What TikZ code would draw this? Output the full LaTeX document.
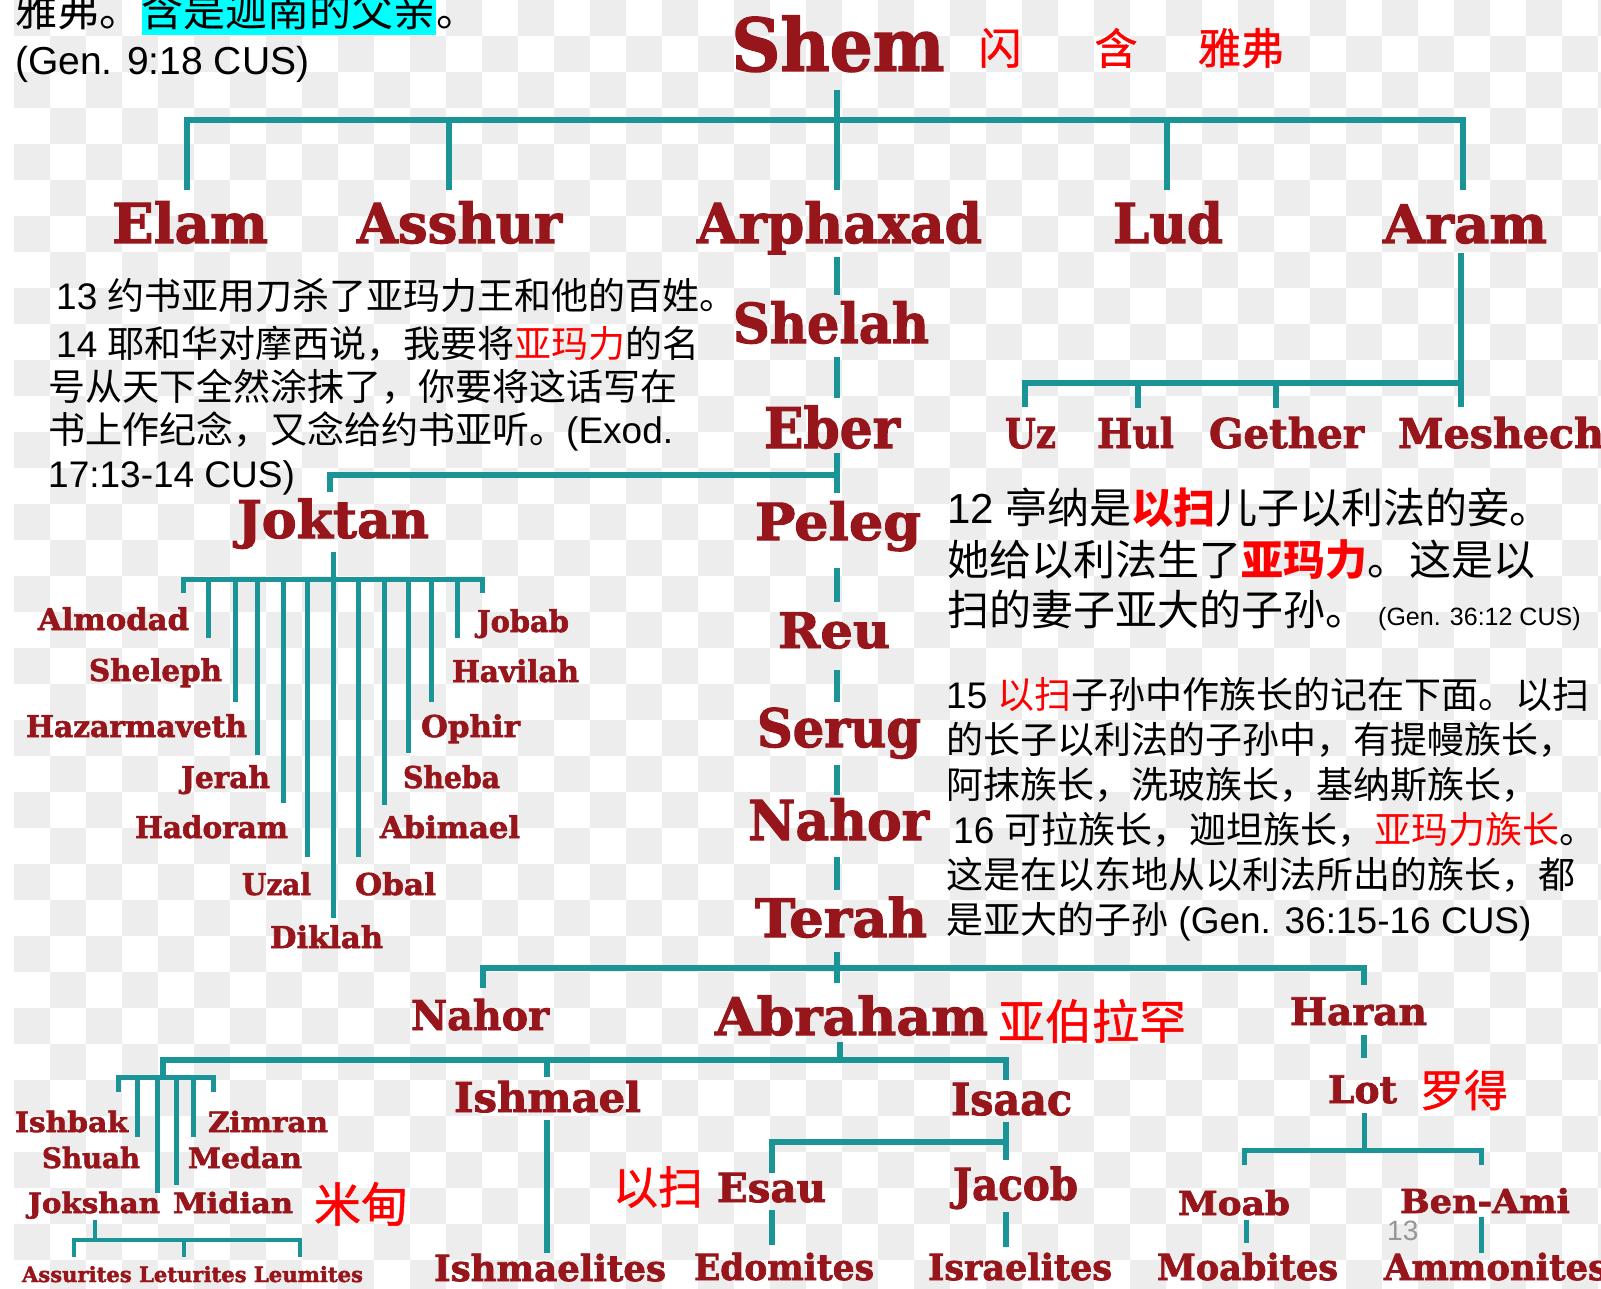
\documentclass[tikz,border=0pt]{standalone}
\usepackage{fontspec}
\usepackage{graphicx}
\setmainfont{Liberation Sans}
\newfontfamily\cjk{Noto Sans CJK SC}
\newfontfamily\cjkm{Noto Sans CJK SC}[FakeBold=1]
\newfontfamily\nmfont{DejaVu Serif}[BoldFeatures={FakeBold=2}]
\definecolor{namered}{RGB}{150,22,28}
\definecolor{tealln}{RGB}{26,148,150}
\definecolor{chk}{RGB}{237,237,237}
\definecolor{hlcyan}{RGB}{0,255,255}
\definecolor{pgnum}{RGB}{150,150,150}
\newlength\nmlen
\newcommand\fitw[2]{\settowidth\nmlen{#2}\scalebox{\fpeval{#1/\nmlen}}[1]{#2}}
\newcommand\fs[1]{\fontsize{#1}{#1}\selectfont}
\tikzset{
  nm/.style={font=\nmfont\bfseries\fs{#1}, text=namered, anchor=base, inner sep=0pt},
  ln/.style={draw=tealln, line width=6pt},
  lns/.style={draw=tealln, line width=5pt},
  lnt/.style={draw=tealln, line width=4pt},
  txt/.style={font=\fs{#1}, anchor=base west, inner sep=0pt, text=black},
  rlab/.style={font=\cjkm\fs{#1}, text=red, inner sep=0pt, anchor=center},
}
\begin{document}
\begin{tikzpicture}[x=1pt,y=-1pt]
\useasboundingbox (0,0) rectangle (1601,1289);
\fill[white] (0,0) rectangle (1601,1289);
% checkerboard background
\begin{scope}
\clip (14,0) rectangle (1601,1289);
\foreach \i in {0,...,44}{\foreach \j in {0,...,35}{%
  \pgfmathtruncatemacro\k{mod(\i+\j,2)}%
  \ifnum\k=0 \fill[chk] ({14+\i*36},{\j*36}) rectangle +(36,36);\fi}}
\end{scope}

% ---------- top quotation ----------
\node[txt=42, font=\cjk\fs{42}] (t1a) at (15,27) {雅弗。};
\node[txt=42, font=\cjk\fs{42}, fill=hlcyan, inner ysep=5pt] (t1b) at (t1a.base east) {含是迦南的父亲};
\node[txt=42, font=\cjk\fs{42}] (t1c) at (t1b.base east) {。};
\node[txt=39] (t2) at (15,75) {(Gen. 9:18 CUS)};

% ---------- names ----------
\node[nm=73] (shem) at (838,71) {\fitw{213}{Shem}};
\node[rlab=43] (zshem) at (1000,48) {闪};
\node[rlab=43] (zham) at (1116,48) {含};
\node[rlab=43] (zjap) at (1241,48) {雅弗};

\node[nm=55] (elam) at (190,243) {\fitw{156}{Elam}};
\node[nm=55] (asshur) at (459.5,243) {\fitw{205}{Asshur}};
\node[nm=55] (arphaxad) at (839.5,243) {\fitw{285}{Arphaxad}};
\node[nm=55] (lud) at (1168,243) {\fitw{110}{Lud}};
\node[nm=53] (aram) at (1465,243) {\fitw{164}{Aram}};

\node[nm=55] (shelah) at (831,343) {\fitw{196}{Shelah}};
\node[nm=56] (eber) at (832,448) {\fitw{136}{Eber}};
\node[nm=51] (peleg) at (838,540) {\fitw{166}{Peleg}};
\node[nm=49] (reu) at (834,648) {\fitw{112}{Reu}};
\node[nm=53] (serug) at (839,747) {\fitw{164}{Serug}};
\node[nm=55] (nahor) at (838.5,840) {\fitw{181}{Nahor}};
\node[nm=53] (terah) at (841,937) {\fitw{172}{Terah}};

\node[nm=41] (uz) at (1030.5,448) {\fitw{51}{Uz}};
\node[nm=41] (hul) at (1135.5,448) {\fitw{77}{Hul}};
\node[nm=41] (gether) at (1286.5,448) {\fitw{155}{Gether}};
\node[nm=41] (meshech) at (1501,448) {\fitw{206}{Meshech}};

\node[nm=52] (joktan) at (333,538) {\fitw{192}{Joktan}};
\node[nm=30] (almodad) at (113.5,630) {\fitw{151}{Almodad}};
\node[nm=30] (sheleph) at (155.5,681) {\fitw{133}{Sheleph}};
\node[nm=30] (hazarmaveth) at (136.5,737) {\fitw{221}{Hazarmaveth}};
\node[nm=30] (jerah) at (225.5,788) {\fitw{89}{Jerah}};
\node[nm=30] (hadoram) at (211.5,838) {\fitw{153}{Hadoram}};
\node[nm=30] (uzal) at (276.5,895) {\fitw{69}{Uzal}};
\node[nm=30] (diklah) at (326.5,948) {\fitw{113}{Diklah}};
\node[nm=30] (obal) at (395.5,895) {\fitw{81}{Obal}};
\node[nm=30] (abimael) at (450,838) {\fitw{140}{Abimael}};
\node[nm=30] (sheba) at (451.5,788) {\fitw{97}{Sheba}};
\node[nm=30] (ophir) at (470.5,737) {\fitw{99}{Ophir}};
\node[nm=30] (havilah) at (515.5,682) {\fitw{127}{Havilah}};
\node[nm=30] (jobab) at (523,632) {\fitw{92}{Jobab}};

\node[nm=41] (nahorb) at (480,1030) {\fitw{138}{Nahor}};
\node[nm=52] (abraham) at (851.5,1035) {\fitw{273}{Abraham}};
\node[rlab=47] (zabr) at (1092,1021) {亚伯拉罕};
\node[nm=38] (haran) at (1358.5,1025) {\fitw{137}{Haran}};

\node[nm=41] (ishmael) at (547.5,1112) {\fitw{187}{Ishmael}};
\node[nm=44] (isaac) at (1011.5,1115) {\fitw{121}{Isaac}};
\node[nm=38] (lot) at (1362.5,1103) {\fitw{69}{Lot}};
\node[rlab=44] (zlot) at (1464,1090) {罗得};

\node[nm=40] (esau) at (771.5,1202) {\fitw{109}{Esau}};
\node[rlab=45] (zesau) at (658,1187) {以扫};
\node[nm=44] (jacob) at (1015.5,1200) {\fitw{125}{Jacob}};
\node[nm=33] (moab) at (1234,1215) {\fitw{112}{Moab}};
\node[nm=33] (benami) at (1485,1213) {\fitw{170}{Ben-Ami}};

\node[nm=36] (ishmaelites) at (550,1281) {\fitw{232}{Ishmaelites}};
\node[nm=36] (edomites) at (784,1280) {\fitw{180}{Edomites}};
\node[nm=36] (israelites) at (1020,1280) {\fitw{184}{Israelites}};
\node[nm=36] (moabites) at (1247.5,1280) {\fitw{181}{Moabites}};
\node[nm=36] (ammonites) at (1496,1280) {\fitw{224}{Ammonites}};

\node[nm=28] (ishbak) at (71.5,1132) {\fitw{113}{Ishbak}};
\node[nm=28] (shuah) at (91,1168) {\fitw{98}{Shuah}};
\node[nm=28] (jokshan) at (94,1213) {\fitw{132}{Jokshan}};
\node[nm=28] (midian) at (233,1213) {\fitw{120}{Midian}};
\node[nm=28] (zimran) at (268,1132) {\fitw{120}{Zimran}};
\node[nm=28] (medan) at (245,1168) {\fitw{114}{Medan}};
\node[rlab=47] (zmid) at (361,1204) {米甸};
\node[nm=21] (assur) at (192.5,1282) {\fitw{341}{Assurites Leturites Leumites}};

\node[txt=28, text=pgnum] (pg) at (1387,1240) {13};

% ---------- text blocks ----------
\node[txt=37] (a1) at (56,310) {13 {\cjk 约书亚用刀杀了亚玛力王和他的百姓。}};
\node[txt=37] (a2) at (56,357) {14 {\cjk 耶和华对摩西说，我要将{\color{red}亚玛力}的名}};
\node[txt=37] (a3) at (48,400) {{\cjk 号从天下全然涂抹了，你要将这话写在}};
\node[txt=37] (a4) at (48,443) {{\cjk 书上作纪念，又念给约书亚听。}(Exod.};
\node[txt=37] (a5) at (48,487) {17:13-14 CUS)};

\node[txt=42] (b1) at (947,523) {12 {\cjk 亭纳是{\color{red}\bfseries 以扫}儿子以利法的妾。}};
\node[txt=42] (b2) at (947,575) {{\cjk 她给以利法生了{\color{red}\bfseries 亚玛力}。这是以}};
\node[txt=42] (b3) at (947,625) {{\cjk 扫的妻子亚大的子孙。}};
\node[txt=25] (b3r) at (1378,625) {(Gen. 36:12 CUS)};

\node[txt=37] (c1) at (946,708) {15 {\cjk {\color{red}以扫}子孙中作族长的记在下面。以扫}};
\node[txt=37] (c2) at (946,753) {{\cjk 的长子以利法的子孙中，有提幔族长，}};
\node[txt=37] (c3) at (946,798) {{\cjk 阿抹族长，洗玻族长，基纳斯族长，}};
\node[txt=37] (c4) at (953,843) {16 {\cjk 可拉族长，迦坦族长，{\color{red}亚玛力族长}。}};
\node[txt=37] (c5) at (946,888) {{\cjk 这是在以东地从以利法所出的族长，都}};
\node[txt=37] (c6) at (946,933) {{\cjk 是亚大的子孙} (Gen. 36:15-16 CUS)};

% ---------- connectors ----------
% Shem's sons
\draw[ln] (837,90) -- (837,190);
\draw[ln] (187,190) -- (187,120) -- (1463,120) -- (1463,190);
\draw[ln] (449,120) -- (449,190);
\draw[ln] (1167,120) -- (1167,190);
% Arphaxad line
\draw[ln] (837,257) -- (837,295);
\draw[ln] (837,357) -- (837,398);
\draw[ln] (837,453) -- (837,493);
\draw[ln] (837,568) -- (837,602);
\draw[ln] (837,670) -- (837,702);
\draw[ln] (837,765) -- (837,795);
\draw[ln] (837,857) -- (837,890);
\draw[ln] (837,952) -- (837,983);
% Joktan branch
\draw[ln] (837,475) -- (330,475) -- (330,492);
% Aram's sons
\draw[ln] (1461,253) -- (1461,407);
\draw[ln] (1025,407) -- (1025,383) -- (1461,383);
\draw[ln] (1138,383) -- (1138,408);
\draw[ln] (1276,383) -- (1276,408);
% Joktan's sons
\draw[lns] (333,552) -- (333,918);
\draw[lns] (183,593) -- (183,579) -- (482,579) -- (482,593);
\foreach \xx/\yy in {208/638,235/702,257/755,283/803,307/857,358/857,384/805,408/753,431/702,457/638}
  \draw[lns] (\xx,579) -- (\xx,\yy);
% Terah's sons
\draw[ln] (483,988) -- (483,968) -- (1364,968) -- (1364,985);
\draw[ln] (1364,1035) -- (1364,1058);
% Abraham's sons
\draw[ln] (840,1042) -- (840,1060);
\draw[ln] (163,1077) -- (163,1060) -- (1006,1060) -- (1006,1080);
\draw[ln] (547,1060) -- (547,1077);
% Keturah's sons
\draw[lns] (118,1092) -- (118,1077) -- (213,1077) -- (213,1092);
\foreach \xx/\yy in {137/1137,157/1193,176/1185,193/1137}
  \draw[lns] (\xx,1077) -- (\xx,\yy);
% Jokshan's sons
\draw[lnt] (95,1220) -- (95,1240);
\draw[lnt] (74,1257) -- (74,1240) -- (300,1240) -- (300,1257);
\draw[lnt] (184,1240) -- (184,1257);
% Ishmael
\draw[ln] (547,1120) -- (547,1253);
% Isaac's sons
\draw[ln] (1006,1122) -- (1006,1160);
\draw[ln] (772,1173) -- (772,1142) -- (1006,1142);
\draw[ln] (772,1210) -- (772,1245);
\draw[ln] (1006,1212) -- (1006,1247);
% Lot's sons
\draw[lns] (1364,1113) -- (1364,1150);
\draw[lns] (1244,1165) -- (1244,1150) -- (1481,1150) -- (1481,1165);
\draw[lns] (1246,1220) -- (1246,1243);
\draw[lns] (1481,1217) -- (1481,1253);
\end{tikzpicture}
\end{document}
